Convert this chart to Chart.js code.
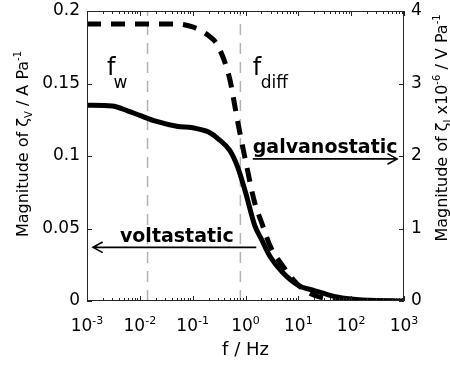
<!DOCTYPE html>
<html>
<head>
<meta charset="utf-8">
<script src="https://cdn.jsdelivr.net/npm/chart.js"></script>
<style>
  body { margin: 0; background: #fff; }
  canvas { display: block; }
</style>
</head>
<body>
<canvas id="magChart" width="450" height="366"></canvas>
<script>
// frequencies (Hz) shared by both curves
const freqHz = [0.001, 0.003, 0.006, 0.01, 0.02, 0.05, 0.1, 0.15, 0.2, 0.3, 0.5, 0.7, 1, 1.5, 2, 3, 5, 10, 20, 50, 100, 300, 1000];
// voltastatic |zeta_V| in A/Pa (left axis)
const zetaV = [0.135, 0.1345, 0.131, 0.128, 0.124, 0.1205, 0.1195, 0.118, 0.1165, 0.112, 0.104, 0.093, 0.075, 0.052, 0.0426, 0.030, 0.0198, 0.0108, 0.0072, 0.003, 0.0014, 0.0003, 0];
// galvanostatic |zeta_I| in 1e-6 V/Pa (right axis)
const zetaI = [3.82, 3.82, 3.82, 3.82, 3.82, 3.82, 3.78, 3.72, 3.66, 3.52, 3.07, 2.50, 1.94, 1.35, 1.09, 0.74, 0.49, 0.22, 0.08, 0.02, 0.006, 0.001, 0];
// characteristic frequencies f_w and f_diff
const markerFreqs = [0.014, 0.8];
const xTickExps = [-3, -2, -1, 0, 1, 2, 3];
const yLeftTicks = [0, 0.05, 0.1, 0.15, 0.2];
const yRightTicks = [0, 1, 2, 3, 4];

const FONT = '"DejaVu Sans", sans-serif';

function toXY(ys) {
  return freqHz.map((f, i) => ({ x: f, y: ys[i] }));
}

function richWidth(ctx, parts, size) {
  let w = 0;
  parts.forEach(p => {
    ctx.font = (p.s ? Math.round(size * 0.65) : size) + 'px ' + FONT;
    w += ctx.measureText(p.t).width;
  });
  return w;
}

function drawRich(ctx, parts, x, y, size) {
  parts.forEach(p => {
    let sz = size, dy = 0;
    if (p.s === 'sup') { sz = Math.round(size * 0.65); dy = -size * 0.42; }
    if (p.s === 'sub') { sz = Math.round(size * 0.65); dy = size * 0.25; }
    ctx.font = sz + 'px ' + FONT;
    ctx.fillText(p.t, x, y + dy);
    x += ctx.measureText(p.t).width;
  });
}

function arrow(ctx, x1, y1, x2, y2) {
  const a = Math.atan2(y2 - y1, x2 - x1);
  ctx.beginPath();
  ctx.moveTo(x1, y1);
  ctx.lineTo(x2, y2);
  ctx.moveTo(x2 - 11 * Math.cos(a - 0.5), y2 - 11 * Math.sin(a - 0.5));
  ctx.lineTo(x2, y2);
  ctx.lineTo(x2 - 11 * Math.cos(a + 0.5), y2 - 11 * Math.sin(a + 0.5));
  ctx.stroke();
}

const decorations = {
  id: 'decorations',
  afterDraw(chart) {
    const { ctx, chartArea: { left, right, top, bottom }, scales: { x, y, y2 } } = chart;
    ctx.save();

    // box
    ctx.strokeStyle = '#262626';
    ctx.lineWidth = 1;
    ctx.strokeRect(left + 0.5, top + 0.5, right - left - 1, bottom - top - 1);

    // ticks, all pointing inward
    ctx.beginPath();
    xTickExps.forEach(e => {
      const px = Math.round(x.getPixelForValue(Math.pow(10, e))) + 0.5;
      ctx.moveTo(px, bottom); ctx.lineTo(px, bottom - 5);
      ctx.moveTo(px, top); ctx.lineTo(px, top + 5);
      if (e < 3) {
        for (let m = 2; m <= 9; m++) {
          const mx = Math.round(x.getPixelForValue(m * Math.pow(10, e))) + 0.5;
          ctx.moveTo(mx, bottom); ctx.lineTo(mx, bottom - 3);
          ctx.moveTo(mx, top); ctx.lineTo(mx, top + 3);
        }
      }
    });
    yLeftTicks.forEach(v => {
      const py = Math.round(y.getPixelForValue(v)) + 0.5;
      ctx.moveTo(left, py); ctx.lineTo(left + 5, py);
    });
    yRightTicks.forEach(v => {
      const py = Math.round(y2.getPixelForValue(v)) + 0.5;
      ctx.moveTo(right, py); ctx.lineTo(right - 5, py);
    });
    ctx.stroke();

    // y tick labels
    ctx.fillStyle = '#000';
    ctx.font = '17px ' + FONT;
    ctx.textBaseline = 'middle';
    ctx.textAlign = 'right';
    yLeftTicks.forEach(v => ctx.fillText(String(v), left - 7, y.getPixelForValue(v)));
    ctx.textAlign = 'left';
    yRightTicks.forEach(v => ctx.fillText(String(v), right + 7, y2.getPixelForValue(v)));

    // x tick labels 10^n
    ctx.textBaseline = 'alphabetic';
    xTickExps.forEach(e => {
      const parts = [{ t: '10' }, { t: String(e), s: 'sup' }];
      const w = richWidth(ctx, parts, 17);
      drawRich(ctx, parts, x.getPixelForValue(Math.pow(10, e)) - w / 2, 331, 17);
    });

    // axis titles
    const xt = [{ t: 'f / Hz' }];
    drawRich(ctx, xt, (left + right) / 2 - richWidth(ctx, xt, 18) / 2, 355, 18);

    const lt = [{ t: 'Magnitude of ζ' }, { t: 'V', s: 'sub' }, { t: ' / A Pa' }, { t: '-1', s: 'sup' }];
    ctx.save();
    ctx.translate(22, 144);
    ctx.rotate(-Math.PI / 2);
    drawRich(ctx, lt, -richWidth(ctx, lt, 16) / 2, 6, 16);
    ctx.restore();

    const rt = [{ t: 'Magnitude of ζ' }, { t: 'I', s: 'sub' }, { t: ' x10' }, { t: '-6', s: 'sup' }, { t: ' / V Pa' }, { t: '-1', s: 'sup' }];
    ctx.save();
    ctx.translate(441, 128);
    ctx.rotate(-Math.PI / 2);
    drawRich(ctx, rt, -richWidth(ctx, rt, 16) / 2, 6, 16);
    ctx.restore();

    // f_w and f_diff labels
    ctx.font = '24px ' + FONT;
    const fwx = x.getPixelForValue(0.0024);
    ctx.fillText('f', fwx, 75);
    ctx.font = '17px ' + FONT;
    ctx.fillText('w', fwx + ctx.measureText('f').width + 0.5, 88);
    ctx.font = '24px ' + FONT;
    const fdx = x.getPixelForValue(1.37);
    ctx.fillText('f', fdx, 75);
    ctx.font = '17px ' + FONT;
    ctx.fillText('diff', fdx + 8, 88);

    // arrows with bold labels
    ctx.strokeStyle = '#000';
    ctx.lineWidth = 1.6;
    ctx.font = 'bold 19px ' + FONT;
    ctx.fillText('voltastatic', x.getPixelForValue(0.0042), y.getPixelForValue(0.041));
    arrow(ctx, x.getPixelForValue(1.6), y.getPixelForValue(0.037), x.getPixelForValue(0.0013), y.getPixelForValue(0.037));
    ctx.fillText('galvanostatic', x.getPixelForValue(1.37), y2.getPixelForValue(2.04));
    arrow(ctx, x.getPixelForValue(1.37), y2.getPixelForValue(1.96), x.getPixelForValue(740), y2.getPixelForValue(1.96));

    ctx.restore();
  }
};

const ctx = document.getElementById('magChart').getContext('2d');
new Chart(ctx, {
  type: 'line',
  data: {
    datasets: [
      {
        label: 'voltastatic',
        data: toXY(zetaV),
        yAxisID: 'y',
        borderColor: '#000',
        borderWidth: 5,
        pointRadius: 0,
        cubicInterpolationMode: 'monotone',
        fill: false
      },
      {
        label: 'galvanostatic',
        data: toXY(zetaI),
        yAxisID: 'y2',
        borderColor: '#000',
        borderWidth: 5,
        borderDash: [14, 10],
        pointRadius: 0,
        cubicInterpolationMode: 'monotone',
        fill: false
      },
      ...markerFreqs.map(f => ({
        label: 'marker',
        data: [{ x: f, y: 0 }, { x: f, y: 0.2 }],
        yAxisID: 'y',
        borderColor: '#b3b3b3',
        borderWidth: 1.5,
        borderDash: [11, 8],
        pointRadius: 0,
        fill: false
      }))
    ]
  },
  options: {
    responsive: false,
    animation: false,
    layout: { padding: { top: 11, left: 0, right: 0, bottom: 0 } },
    plugins: { legend: { display: false }, tooltip: { enabled: false } },
    scales: {
      x: {
        type: 'logarithmic',
        min: 0.001,
        max: 1000,
        ticks: { display: false },
        grid: { display: false, drawTicks: false },
        border: { display: false },
        afterFit: s => { s.height = 65; }
      },
      y: {
        position: 'left',
        min: 0,
        max: 0.2,
        ticks: { display: false },
        grid: { display: false, drawTicks: false },
        border: { display: false },
        afterFit: s => { s.width = 87; }
      },
      y2: {
        position: 'right',
        min: 0,
        max: 4,
        ticks: { display: false },
        grid: { display: false, drawTicks: false },
        border: { display: false },
        afterFit: s => { s.width = 46; }
      }
    }
  },
  plugins: [decorations]
});
</script>
</body>
</html>
